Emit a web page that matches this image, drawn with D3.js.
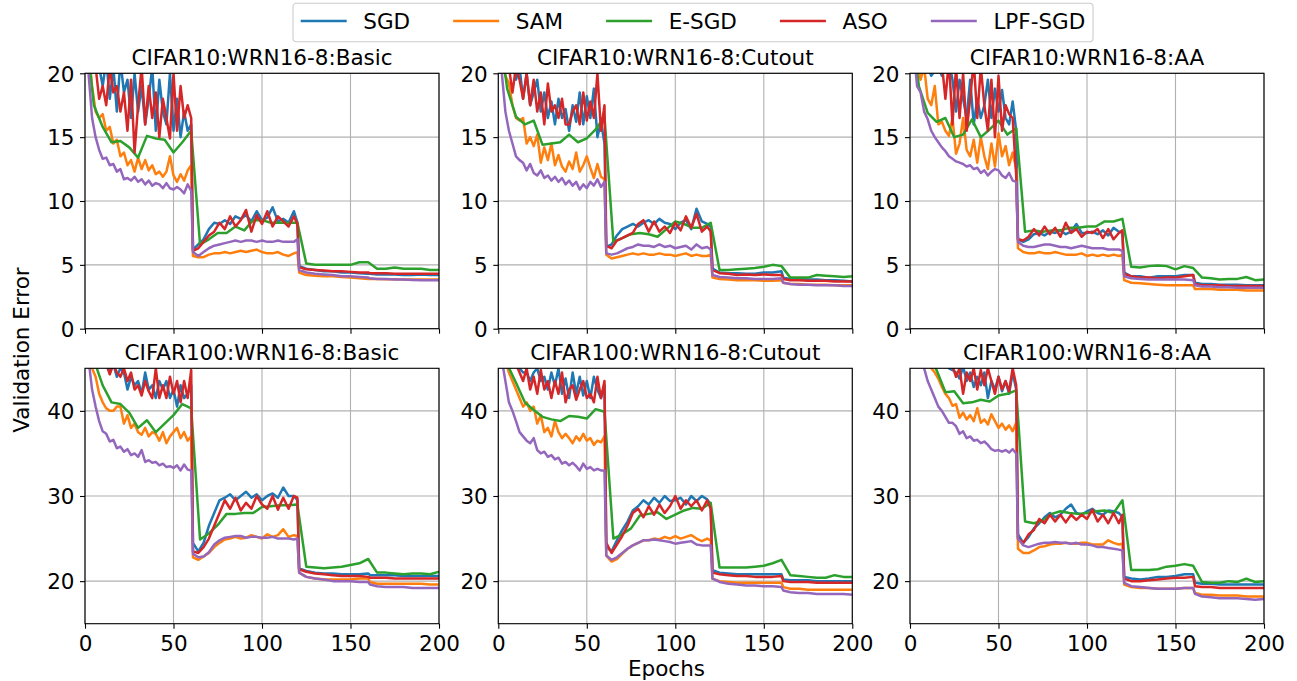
<!DOCTYPE html>
<html><head><meta charset="utf-8">
<script src="https://cdn.jsdelivr.net/npm/d3@7"></script>
<style>body{margin:0;background:#fff}svg{display:block}text{font-family:"DejaVu Sans",sans-serif;fill:#000}</style>
</head><body><svg id="c" width="1297" height="681"></svg>
<script>
// ---------- shared x values ----------
const epochs = [0,2,4,6,8,10,12,14,16,18,20,22,24,26,28,30,32,34,36,38,40,42,44,46,48,50,52,54,56,58,60,
  61,64,67,70,73,76,79,82,85,88,91,94,97,100,103,106,109,112,115,118,120,
  121,125,130,135,140,145,150,155,160,161,165,170,175,180,185,190,195,200];
const esgdEpochs = [0,5,10,15,20,25,30,35,40,45,50,55,60,65,70,75,80,85,90,95,100,105,110,115,120,125,130,135,140,145,150,155,160,165,170,175,180,185,190,195,200];

const methods = ["SGD","SAM","E-SGD","ASO","LPF-SGD"];
const colors = ["#1f77b4","#ff7f0e","#2ca02c","#d62728","#9467bd"];
const titles = ["CIFAR10:WRN16-8:Basic","CIFAR10:WRN16-8:Cutout","CIFAR10:WRN16-8:AA",
                "CIFAR100:WRN16-8:Basic","CIFAR100:WRN16-8:Cutout","CIFAR100:WRN16-8:AA"];
const xTicks = [0,50,100,150,200];
const yTicksC10 = [0,5,10,15,20];
const yTicksC100 = [20,30,40];
const yDomainC10 = [0,20];
const yDomainC100 = [15,45];

// ---------- CIFAR10 Basic ----------
const c10basicSGD = [30,25,22,21,20.5,19,21,18,20.5,17,21,18.5,19.5,16.5,20,17,19,16,18,20.5,15.5,19.5,17,16,20,15.5,18,15,17,15.5,16,
  6.2,6.6,7.0,7.8,8.3,8.2,8.5,8.2,8.8,8.6,8.9,8.4,9.2,8.5,8.7,9.5,8.4,8.6,8.3,9.2,8.3,
  4.9,4.7,4.6,4.5,4.5,4.4,4.4,4.35,4.3,4.3,4.25,4.25,4.25,4.2,4.2,4.25,4.2,4.2];
const c10basicSAM = [28,22,19,17,16.5,16.8,15.5,15.8,14.5,14.8,13.5,13.8,12.8,13.2,12.3,13.4,12.5,13.2,12.4,12.8,12.1,12.3,11.9,12.3,13.5,12.0,11.5,12.1,11.6,12.4,12.8,
  5.7,5.6,5.6,5.8,5.9,5.9,6.0,5.9,6.0,6.1,6.0,6.1,6.2,6.0,5.9,5.9,6.0,5.8,5.7,5.9,6.0,
  4.4,4.2,4.15,4.1,4.1,4.05,4.0,3.95,3.9,3.9,3.9,3.88,3.87,3.86,3.85,3.85,3.85,3.85];
const c10basicESGD = [24,17.5,15.8,14.6,14.7,14.2,13.4,15.1,14.9,14.8,13.8,14.6,15.5,
  6.6,7.0,7.5,7.5,8.0,7.7,8.5,8.5,8.3,8.3,8.3,8.3,
  5.1,5.0,5.0,5.0,5.0,5.0,5.2,5.2,4.7,4.7,4.8,4.7,4.7,4.7,4.6,4.6];
const c10basicASO = [30,24,21,20.5,18,19,17.5,20.5,18.5,19,17,18.5,15.5,19.5,13.8,17.5,20.5,16,19,16.5,18.5,15,18,16.5,14.9,20,15.5,19,16.5,17.5,16.5,
  6.1,6.3,6.8,7.3,7.6,8.3,7.8,8.8,8.0,8.5,9.3,7.6,8.9,8.2,9.2,8.0,8.8,8.4,8.0,8.8,8.2,
  4.8,4.65,4.6,4.55,4.5,4.5,4.45,4.4,4.4,4.35,4.35,4.35,4.3,4.3,4.3,4.3,4.3,4.3];
const c10basicLPF = [28,20,16.5,15,14,13.3,13.4,12.8,12.9,12.3,12.5,11.7,11.8,11.6,11.9,11.5,11.7,11.3,11.6,11.2,11.4,11.3,11.0,11.4,11.0,10.9,11.1,10.9,10.6,11.3,10.8,
  6.0,5.7,6.0,6.3,6.5,6.6,6.7,6.8,6.9,6.8,6.9,6.9,6.8,6.9,6.8,6.8,6.9,6.8,6.8,6.8,7.0,
  4.6,4.4,4.3,4.25,4.2,4.1,4.1,4.05,4.0,3.95,3.9,3.9,3.85,3.85,3.82,3.8,3.8,3.8];

// ---------- CIFAR10 Cutout ----------
const c10cutoutSGD = [30,24,21,20.5,21,19.5,20.5,18,20,17.5,18.5,19.5,17,18.5,16.5,17.8,16,18,16.5,17.2,15.5,17.5,16.2,18.5,16.0,18.2,16.5,18.8,15.0,16.2,14.5,
  6.4,6.6,7.3,7.8,8.0,8.2,8.0,8.3,8.5,8.2,8.6,8.3,8.2,7.8,8.3,8.5,7.8,9.4,8.4,8.2,8.0,
  4.7,4.4,4.35,4.35,4.3,4.3,4.4,4.4,4.5,4.0,3.9,3.9,3.85,3.85,3.8,3.8,3.75,3.7];
const c10cutoutSAM = [28,21,19.8,19.2,17.5,16.5,16.3,16.5,14.5,15.0,14.3,15.2,13.0,14.2,13.2,14.5,12.8,13.6,12.7,12.3,13.1,12.5,13.8,12.3,12.8,13.5,12.6,11.8,12.9,11.9,11.7,
  5.8,5.5,5.6,5.7,5.8,5.9,5.8,5.9,5.8,5.8,5.9,5.8,5.8,5.7,5.8,5.9,5.7,5.8,5.7,5.7,5.8,
  4.0,3.9,3.85,3.8,3.8,3.8,3.75,3.75,3.8,3.6,3.5,3.5,3.45,3.45,3.45,3.4,3.4,3.4];
const c10cutoutESGD = [24,18.8,16.6,16.0,16.3,14.4,14.5,14.6,15.2,14.6,14.9,15.6,16.6,
  6.8,7.1,7.4,7.5,7.4,7.2,7.8,8.4,8.2,7.9,7.9,8.3,
  4.6,4.6,4.65,4.7,4.75,4.85,5.0,4.9,4.0,4.0,4.0,4.2,4.15,4.1,4.05,4.1];
const c10cutoutASO = [30,25,21,20.5,18.5,20.5,19.5,18,20,17.5,19.5,17,18.5,16,19.2,17,17.5,16.5,18,16,16,17,17.5,16,18.5,16.3,17.8,16.5,20,15.5,17.5,
  6.5,6.3,6.9,7.1,7.3,7.5,8.2,8.5,7.6,8.4,7.6,8.0,7.5,8.3,7.7,8.8,7.9,9.0,7.6,8.0,7.6,
  4.6,4.35,4.3,4.2,4.25,4.2,4.25,4.2,4.2,3.9,3.8,3.8,3.75,3.75,3.75,3.7,3.7,3.7];
const c10cutoutLPF = [28,20,17,15.5,14.5,13.5,13.2,13.0,12.4,12.9,12.2,12.0,12.4,11.8,12.0,11.6,11.9,11.5,11.8,11.3,11.6,11.2,11.5,10.9,11.3,11.0,11.5,11.2,11.7,11.1,11.5,
  5.9,5.8,5.9,6.1,6.3,6.4,6.6,6.5,6.5,6.4,6.6,6.4,6.5,6.3,6.4,6.5,6.2,6.6,6.3,6.4,6.2,
  4.2,4.05,4.0,3.95,3.95,3.9,3.9,3.9,3.95,3.6,3.5,3.45,3.45,3.4,3.4,3.4,3.35,3.35];

// ---------- CIFAR10 AA ----------
const c10aaSGD = [30,26,23,21,21,20.5,19.8,20.2,20.5,19.8,20.5,21,19.5,17,19.5,18,16.5,19.5,16,18,16.5,17.5,19.5,16.5,18.8,17.0,18.7,16.5,16.0,17.8,15.5,
  7.0,6.8,7.0,7.4,7.5,7.3,7.6,7.5,7.7,7.4,7.6,8.2,7.5,7.5,7.6,7.4,7.7,7.3,7.9,7.6,7.5,
  4.4,4.1,4.1,4.0,4.1,4.1,4.1,4.2,4.2,3.6,3.5,3.5,3.45,3.45,3.45,3.4,3.4,3.4];
const c10aaSAM = [28,23,21,19.5,20.5,18,17.5,19,16,16.2,15.5,15.1,16.5,13.7,14.5,16.5,14.0,13.5,14.8,13.0,15.0,13.5,12.5,14.5,12.7,15.3,13.5,14.3,12.8,13.8,12.5,
  6.3,6.0,5.9,5.9,6.0,5.9,5.9,6.0,5.9,5.8,5.8,5.8,5.9,5.7,5.8,5.7,5.8,5.7,5.8,5.7,5.8,
  3.8,3.6,3.55,3.5,3.45,3.4,3.4,3.4,3.4,3.1,3.1,3.1,3.05,3.05,3.05,3.0,3.0,3.0];
const c10aaESGD = [25,19,16.9,16.2,16.5,15.0,15.2,16.4,15.0,15.6,16.3,15.2,15.7,
  7.6,7.7,7.6,7.7,7.7,7.9,7.9,8.0,8.0,8.4,8.4,8.6,
  4.85,4.8,4.9,4.95,4.9,4.65,4.9,4.75,4.0,3.95,3.85,3.9,3.9,4.05,3.8,3.85];
const c10aaASO = [30,26,22,21,21,20.5,20.3,20.5,20.5,20.8,18,21,16,20.5,16.5,20,15.5,18,21,16.5,20.5,17.5,15.5,19.5,15.0,19.8,15.5,17.5,16.8,16.5,12.0,
  7.0,6.9,7.2,7.8,7.3,8.0,7.4,7.9,7.2,8.3,7.5,7.8,7.2,7.6,7.5,7.8,7.1,7.8,7.0,7.5,7.7,
  4.3,4.1,4.0,4.0,3.95,4.0,4.0,4.1,4.2,3.5,3.4,3.4,3.4,3.35,3.35,3.35,3.35,3.35];
const c10aaLPF = [28,22,19,18.5,17,16.4,15.5,15.0,14.6,14.2,13.9,13.5,13.3,13.1,13.0,12.9,12.7,12.8,12.5,12.6,12.2,12.4,12.0,12.3,12.5,12.4,12.0,11.8,12.2,11.6,11.5,
  6.8,6.5,6.4,6.4,6.5,6.6,6.6,6.5,6.4,6.4,6.3,6.4,6.5,6.4,6.3,6.3,6.3,6.2,6.2,6.2,6.1,
  4.1,3.95,3.9,3.85,3.85,3.85,3.85,3.85,3.8,3.4,3.3,3.3,3.25,3.25,3.2,3.2,3.2,3.2];

// ---------- CIFAR100 Basic ----------
const c100basicSGD = [60,55,50,48,47,46.5,46,44.5,45.5,44,45,44.5,42.5,44,43,43.5,42,44.5,42.5,43,41.5,43.5,42.5,43.5,41.5,42.5,40.5,43,41.5,42,43,
  24.5,23.5,24.5,26.5,28.0,29.5,29.8,30.2,29.5,30.0,30.5,29.8,30.2,29.5,30.0,30.3,29.8,31.0,30.0,30.0,29.5,
  21.5,21.2,21.0,20.9,20.9,20.8,20.8,20.8,20.9,20.7,20.7,20.7,20.7,20.6,20.6,20.6,20.6,20.6];
const c100basicSAM = [55,48,45,44,42,41,40.3,40.0,40.0,40.5,40.5,38.5,39.5,38.0,38.5,37.5,37.2,38.0,37.0,37.5,37.3,36.5,37.5,36.2,37.0,37.5,38.0,36.8,37.5,36.5,37.0,
  22.8,22.5,22.9,23.3,24.0,24.5,24.9,25.0,25.2,25.0,25.1,25.4,25.2,25.0,25.5,25.2,25.4,26.1,25.2,25.4,25.3,
  21.0,20.5,20.3,20.2,20.2,20.2,20.2,20.3,20.3,19.9,19.7,19.7,19.7,19.7,19.7,19.7,19.6,19.6];
const c100basicESGD = [55,46,43,41.0,40.8,39.8,38.0,38.9,37.5,38.5,39.5,40.8,40.3,
  24.9,25.6,26.6,27.9,27.9,28.0,28.0,28.7,28.8,28.9,28.9,29.0,
  21.7,21.6,21.5,21.6,21.7,21.9,22.1,22.6,21.0,21.0,20.9,20.8,20.9,20.9,20.8,21.1];
const c100basicASO = [60,55,50,48,47,46.5,45.5,44.3,45.5,44.5,44.0,45.0,43.5,44.5,42.5,43.0,41.8,43.5,42.3,41.5,45.0,41.5,43.0,41.5,44.0,42.0,43.5,41.0,43.5,41.5,44.8,
  23.5,23.3,24.0,25.0,26.5,28.0,29.5,28.5,29.8,28.3,29.2,28.5,30.0,29.0,28.5,30.0,28.4,29.8,28.5,30.0,29.8,
  21.4,21.1,20.9,20.8,20.7,20.6,20.6,20.6,20.5,20.4,20.4,20.4,20.3,20.3,20.3,20.3,20.3,20.3];
const c100basicLPF = [52,46,42.5,40.5,38.8,37.6,37.3,36.4,36.6,35.6,35.8,35.2,35.5,34.8,35.0,34.6,35.4,34.0,34.2,33.9,34.0,33.6,33.8,33.4,33.5,33.3,33.6,33.0,33.7,33.1,33.0,
  23.2,22.8,22.9,23.4,24.3,24.8,25.1,25.2,25.3,25.3,25.1,25.2,25.2,25.1,25.1,25.2,25.0,25.0,25.0,24.9,25.0,
  21.0,20.5,20.3,20.2,20.0,20.0,20.0,19.9,19.9,19.6,19.4,19.3,19.3,19.3,19.2,19.2,19.2,19.2];

// ---------- CIFAR100 Cutout ----------
const c100cutoutSGD = [60,55,50,48,46.5,45.5,45,44.5,44.5,43.5,44.5,45,43.5,44,42.5,44.5,43.0,45.0,42.0,43.8,41.5,44.5,42.0,44.0,41.8,43.5,41.5,44.0,42.5,41.5,43.0,
  24,23.5,24.8,26.0,27.0,28.3,28.8,29.5,29.0,29.8,29.2,30.0,29.4,29.5,29.8,29.0,30.0,29.4,30.0,29.6,29.0,
  21.3,21.0,20.9,20.8,20.8,20.8,20.8,20.8,20.8,20.2,20.1,20.1,20.1,20.0,20.0,20.0,20.0,20.0];
const c100cutoutSAM = [55,49,46,44.5,43.5,42.5,41.5,40.5,41.0,40.0,40.5,38.5,39.5,37.5,38.0,37.0,38.8,37.5,36.8,37.3,36.8,36.2,37.0,36.5,37.3,36.5,36.8,36.0,36.5,36.3,37.0,
  23.0,22.3,22.6,23.2,23.8,24.2,24.5,24.8,24.8,25.0,24.9,25.2,25.0,25.3,25.0,25.2,25.4,25.0,24.7,25.0,24.8,
  20.3,20.0,19.9,19.8,19.8,19.8,19.8,19.8,19.8,19.3,19.1,19.1,19.0,19.0,19.0,19.0,19.0,19.0];
const c100cutoutESGD = [55,45.5,43.3,41.0,40.1,39.3,39.0,38.8,39.4,39.3,39.1,40.2,39.9,
  25.0,25.5,26.2,27.7,27.9,28.1,27.3,27.8,28.3,28.6,28.5,29.2,
  21.6,21.6,21.6,21.6,21.7,21.8,22.1,22.5,20.7,20.6,20.5,20.4,20.4,20.7,20.5,20.5];
const c100cutoutASO = [60,55,50,48,46,45.5,44.5,43.5,45.0,42.5,44.0,42.0,44.8,42.5,43.5,41.5,43.5,42.0,44.5,41.0,42.5,43.0,41.3,42.5,43.5,41.5,42.0,41.0,44.0,41.5,43.5,
  24.5,23.3,24.3,25.3,26.5,28.0,28.5,27.5,28.8,27.8,29.0,28.0,28.8,30.0,28.5,29.5,28.8,29.5,28.3,29.5,28.5,
  21.0,20.8,20.7,20.6,20.6,20.5,20.5,20.5,20.6,20.0,19.9,19.9,19.9,19.8,19.8,19.8,19.8,19.8];
const c100cutoutLPF = [50,46,43.5,41.0,40.0,38.8,37.5,37.0,36.5,36.2,36.8,35.4,35.0,35.2,34.6,34.8,34.3,34.5,33.8,34.0,33.6,33.9,33.5,33.0,33.8,33.2,33.4,33.0,33.2,33.0,33.0,
  23.0,22.5,22.8,23.3,23.8,24.2,24.5,24.8,24.8,24.9,24.8,24.7,24.6,24.4,24.5,24.6,24.7,24.3,24.2,24.2,24.2,
  20.3,19.9,19.7,19.6,19.5,19.5,19.4,19.4,19.3,18.9,18.7,18.6,18.6,18.5,18.5,18.5,18.5,18.4];

// ---------- CIFAR100 AA ----------
const c100aaSGD = [62,58,54,50,48,47,46.5,46,45.5,45.8,45.5,45,44.8,44.5,43.8,45.2,43.5,44.5,42.8,44.0,43.0,44.5,41.5,43.5,42.5,44.0,42.3,43.5,42.0,44.5,42.5,
  25.5,24.5,25.2,26.2,26.8,27.5,28.0,27.5,27.8,28.5,29.0,28.0,27.8,28.2,28.5,28.0,27.8,28.3,28.2,28.0,27.5,
  20.5,20.3,20.2,20.3,20.5,20.5,20.6,20.8,20.8,19.8,19.7,19.7,19.6,19.6,19.6,19.6,19.6,19.6];
const c100aaSAM = [58,54,50,47.5,46,45.5,45.0,44.5,43.8,42.8,42.0,41.5,40.6,40.8,39.2,39.8,39.0,39.5,38.8,40.3,38.6,39.0,38.4,39.6,38.8,38.0,38.5,37.8,38.3,37.6,38.6,
  23.8,23.3,23.3,23.6,24.0,24.1,24.3,24.4,24.4,24.5,24.4,24.4,24.5,24.5,24.3,24.3,24.3,24.8,24.5,24.3,24.4,
  19.6,19.3,19.2,19.2,19.1,19.1,19.1,19.2,19.2,18.6,18.4,18.4,18.3,18.3,18.3,18.2,18.2,18.2];
const c100aaESGD = [58,50,46.5,44.8,42.2,42.3,40.9,41.0,41.3,41.1,41.8,42.0,42.4,
  27.0,26.8,27.1,27.9,28.2,28.0,27.9,28.0,28.2,28.3,28.0,29.5,
  21.3,21.3,21.3,21.4,21.7,21.8,22.0,21.8,19.9,19.8,19.8,20.0,19.9,20.3,19.9,20.0];
const c100aaASO = [62,58,54,50,48,47.5,47,46.5,46,46,45.5,46,45.3,44,45,42.0,44.5,43.5,45.0,42.5,44.8,43.0,45.0,43.5,42.0,44.0,42.5,43.5,42.3,45.0,43.0,
  25.0,24.5,25.5,26.0,27.3,26.8,27.8,27.0,27.8,26.9,27.8,27.2,27.8,27.3,28.4,27.0,27.8,26.8,28.0,26.8,27.8,
  20.3,20.0,20.0,20.1,20.2,20.3,20.4,20.4,20.5,19.4,19.3,19.3,19.2,19.2,19.2,19.2,19.2,19.2];
const c100aaLPF = [55,50.5,48.0,46.5,45.0,43.5,42.5,41.5,40.5,40.0,39.3,38.6,38.6,38.2,37.3,37.6,36.8,37.0,36.5,36.6,36.2,36.4,36.0,35.5,35.3,35.4,35.2,35.4,35.1,35.5,35.0,
  25.0,24.2,24.0,24.2,24.4,24.5,24.5,24.6,24.5,24.5,24.4,24.5,24.3,24.3,24.2,24.0,24.0,23.9,23.8,23.7,23.6,
  19.8,19.4,19.3,19.2,19.1,19.1,19.1,19.2,19.2,18.5,18.2,18.1,18.0,18.0,18.0,17.9,17.8,17.9];

// ---------- assemble panels ----------
const panelSeries = [
  [c10basicSGD,c10basicSAM,c10basicESGD,c10basicASO,c10basicLPF],
  [c10cutoutSGD,c10cutoutSAM,c10cutoutESGD,c10cutoutASO,c10cutoutLPF],
  [c10aaSGD,c10aaSAM,c10aaESGD,c10aaASO,c10aaLPF],
  [c100basicSGD,c100basicSAM,c100basicESGD,c100basicASO,c100basicLPF],
  [c100cutoutSGD,c100cutoutSAM,c100cutoutESGD,c100cutoutASO,c100cutoutLPF],
  [c100aaSGD,c100aaSAM,c100aaESGD,c100aaASO,c100aaLPF]
];

// ---------- layout ----------
const FS = 21.5;
const colLeft = [85, 498.3, 910];
const plotW = 354;
const rowTop = [73.3, 368.3];
const plotH = 255.4;
const LW = 2.5;

const svg = d3.select("#c");

panelSeries.forEach((series, i) => {
  const row = Math.floor(i / 3), col = i % 3;
  const x0 = colLeft[col], y0 = rowTop[row];
  const yDomain = row === 0 ? yDomainC10 : yDomainC100;
  const yTicks = row === 0 ? yTicksC10 : yTicksC100;
  const x = d3.scaleLinear().domain([0, 200]).range([0, plotW]);
  const y = d3.scaleLinear().domain(yDomain).range([plotH, 0]);
  const g = svg.append("g").attr("transform", `translate(${x0},${y0})`);

  g.append("clipPath").attr("id", "clip" + i)
    .append("rect").attr("width", plotW).attr("height", plotH);

  // grid
  const grid = g.append("g");
  xTicks.forEach(t => grid.append("line").attr("x1", x(t)).attr("x2", x(t)).attr("y1", 0).attr("y2", plotH)
    .attr("stroke", "#b0b0b0").attr("stroke-width", 1.1));
  yTicks.forEach(t => grid.append("line").attr("x1", 0).attr("x2", plotW).attr("y1", y(t)).attr("y2", y(t))
    .attr("stroke", "#b0b0b0").attr("stroke-width", 1.1));

  // lines
  const lg = g.append("g").attr("clip-path", `url(#clip${i})`);
  series.forEach((vals, k) => {
    const xs = k === 2 ? esgdEpochs : epochs;
    const pts = vals.map((v, j) => [xs[j], v]);
    const line = d3.line().x(d => x(d[0])).y(d => y(d[1]));
    lg.append("path").attr("d", line(pts)).attr("fill", "none")
      .attr("stroke", colors[k]).attr("stroke-width", LW)
      .attr("stroke-linejoin", "round").attr("stroke-linecap", "square");
  });

  // axes via d3 axis
  const xAxis = d3.axisBottom(x).tickValues(xTicks).tickSize(5).tickPadding(6)
    .tickFormat(row === 1 ? d3.format("d") : () => "");
  const yAxis = d3.axisLeft(y).tickValues(yTicks).tickSize(5).tickPadding(5).tickFormat(d3.format("d"));
  const gx = g.append("g").attr("transform", `translate(0,${plotH})`).call(xAxis);
  const gy = g.append("g").call(yAxis);
  [gx, gy].forEach(a => {
    a.select(".domain").remove();
    a.selectAll(".tick line").attr("stroke", "#000").attr("stroke-width", 1.1);
    a.selectAll(".tick text").attr("font-size", FS).attr("font-family", "DejaVu Sans").attr("fill", "#000");
  });
  gx.selectAll(".tick text").attr("dy", null).attr("y", 27).attr("dominant-baseline", "auto");
  gy.selectAll(".tick text").attr("dy", null).attr("x", -10.5).attr("y", 7.8).attr("dominant-baseline", "auto");

  // spines
  g.append("rect").attr("width", plotW).attr("height", plotH).attr("fill", "none")
    .attr("stroke", "#000").attr("stroke-width", 1.1);

  // title
  g.append("text").attr("x", plotW / 2).attr("y", -8).attr("text-anchor", "middle")
    .attr("font-size", FS).text(titles[i]);
});

// axis labels
svg.append("text").attr("x", 666.5).attr("y", 675.5).attr("text-anchor", "middle")
  .attr("font-size", FS).text("Epochs");
svg.append("text").attr("transform", "translate(29,350) rotate(-90)").attr("text-anchor", "middle")
  .attr("font-size", FS).text("Validation Error");

// legend
const leg = svg.append("g");
const legBox = leg.append("rect").attr("y", 3.3).attr("height", 38.4).attr("rx", 3.5)
  .attr("fill", "#fff").attr("fill-opacity", 0.8).attr("stroke", "#cccccc").attr("stroke-width", 1.1);
const items = [];
methods.forEach((m, k) => {
  const it = leg.append("g");
  it.append("line").attr("x1", 0).attr("x2", 46).attr("y1", 21).attr("y2", 21)
    .attr("stroke", colors[k]).attr("stroke-width", LW);
  const t = it.append("text").attr("x", 62.6).attr("y", 29).attr("font-size", FS).text(m);
  const w = 62.6 + t.node().getComputedTextLength();
  items.push({ it, w });
});
const pad = 7.7, colSp = 43;
const total = items.reduce((s, d) => s + d.w, 0) + colSp * (items.length - 1) + 2 * pad;
const left = 293;
let cx = left + pad;
items.forEach(d => { d.it.attr("transform", `translate(${cx},0)`); cx += d.w + colSp; });
legBox.attr("x", left).attr("width", total);
</script></body></html>
